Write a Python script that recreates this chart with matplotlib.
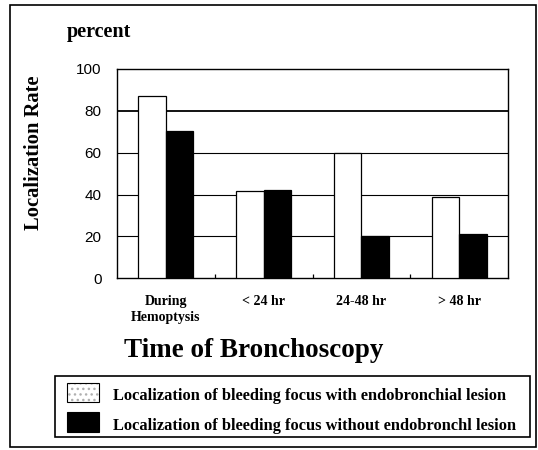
import matplotlib
matplotlib.use("Agg")
import matplotlib.pyplot as plt
from matplotlib.patches import Rectangle
import numpy as np

categories = ["During\nHemoptysis", "< 24 hr", "24-48 hr", "> 48 hr"]
with_lesion = [87, 41.5, 60, 39]
without_lesion = [70.5, 42, 20, 21]
yticks = [0, 20, 40, 60, 80, 100]
legend_labels = ["Localization of bleeding focus with endobronchial lesion",
                 "Localization of bleeding focus without endobronchl lesion"]

SERIF = ["Liberation Serif", "DejaVu Serif"]
SANS = ["Liberation Sans", "DejaVu Sans"]

W, H = 538, 450
fig = plt.figure(figsize=(W / 100, H / 100), dpi=100)

def fx(px):
    return px / W

def fy(py):
    return 1 - py / H

# axes: left 116.7, right 508.3, top 69, bottom 278.3
ax = fig.add_axes([fx(116.7), fy(278.3), fx(508.3 - 116.7), (278.3 - 69) / H])

x = np.arange(len(categories))
bw = 0.28
ax.bar(x - bw / 2, with_lesion, bw, color="white", edgecolor="black", linewidth=0.9, zorder=3)
ax.bar(x + bw / 2, without_lesion, bw, color="black", edgecolor="black", linewidth=0.9, zorder=3)

ax.set_xlim(-0.5, len(categories) - 0.5)
ax.set_ylim(0, 100)
ax.set_yticks(yticks)
ax.set_yticklabels([str(v) for v in yticks], fontfamily=SANS, fontsize=11)
ax.tick_params(axis="y", length=0, pad=11)
for v in yticks[1:-1]:
    ax.axhline(v, color="black", linewidth=1.3 if v == 80 else 0.8, zorder=1)

ax.set_xticks(x)
ax.set_xticklabels(categories, fontfamily=SERIF, fontweight="bold", fontsize=10,
                   linespacing=1.3, va="top")
ax.tick_params(axis="x", length=0, pad=12)
ax.set_xticks(np.arange(len(categories) - 1) + 0.5, minor=True)
ax.tick_params(axis="x", which="minor", direction="in", length=3, width=0.9, color="black")
for s in ax.spines.values():
    s.set_linewidth(1.0)
    s.set_color("black")

# texts
fig.text(fx(67), fy(37), "percent", fontfamily=SERIF, fontweight="bold", fontsize=14.5,
         ha="left", va="baseline")
fig.text(fx(34.5), fy(152.5), "Localization Rate", fontfamily=SERIF, fontweight="bold",
         fontsize=14.8, rotation=90, ha="center", va="center")
fig.text(fx(254), fy(357), "Time of Bronchoscopy", fontfamily=SERIF, fontweight="bold",
         fontsize=19.5, ha="center", va="baseline")

# outer border
fig.patches.append(Rectangle((fx(10), fy(447)), fx(536 - 10), (447 - 5) / H,
                             transform=fig.transFigure, fill=False,
                             edgecolor="black", linewidth=1.2))

# legend box
fig.patches.append(Rectangle((fx(55), fy(437)), fx(530 - 55), (437 - 376) / H,
                             transform=fig.transFigure, fill=False,
                             edgecolor="black", linewidth=1.2))
# legend patch 1 (stippled)
fig.patches.append(Rectangle((fx(67), fy(402)), fx(32), 19 / H, transform=fig.transFigure,
                             facecolor="white", edgecolor="#b0b0b0", hatch="...",
                             linewidth=0))
fig.patches.append(Rectangle((fx(67), fy(402)), fx(32), 19 / H, transform=fig.transFigure,
                             fill=False, edgecolor="black", linewidth=0.8))
# legend patch 2 (black)
fig.patches.append(Rectangle((fx(67), fy(432)), fx(32), 20 / H, transform=fig.transFigure,
                             facecolor="black", edgecolor="black", linewidth=0.8))
fig.text(fx(113), fy(400), legend_labels[0], fontfamily=SERIF, fontweight="bold",
         fontsize=11.8, ha="left", va="baseline")
fig.text(fx(113), fy(430), legend_labels[1], fontfamily=SERIF, fontweight="bold",
         fontsize=11.8, ha="left", va="baseline")

fig.savefig("out.png", dpi=100)
